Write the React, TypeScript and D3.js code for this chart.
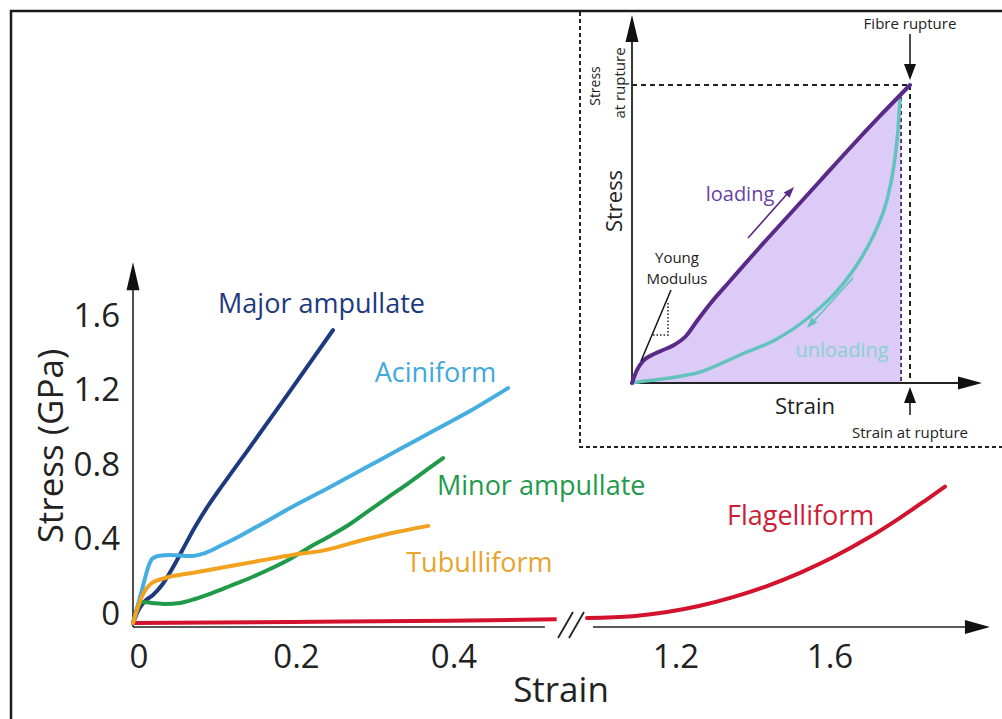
import * as d3 from "d3"

type Pt = [number, number]

// main chart: [strain, stress in GPa]
const majorAmpullate: Pt[] = [
  [0, 0], [0.0076, 0.075], [0.0152, 0.118], [0.0254, 0.151], [0.0368, 0.204], [0.0495, 0.29],
  [0.0635, 0.398], [0.0787, 0.516], [0.0952, 0.629], [0.113, 0.737], [0.1486, 0.946],
  [0.1994, 1.247], [0.254, 1.575],
]
const aciniform: Pt[] = [
  [0, 0], [0.0076, 0.118], [0.014, 0.22], [0.019, 0.296], [0.0241, 0.344], [0.0317, 0.36],
  [0.047, 0.366], [0.0724, 0.36], [0.0914, 0.376], [0.113, 0.419], [0.1359, 0.468],
  [0.1613, 0.527], [0.2019, 0.624], [0.2502, 0.731], [0.2946, 0.833], [0.339, 0.935],
  [0.3835, 1.038], [0.428, 1.14], [0.4762, 1.263],
]
const minorAmpullate: Pt[] = [
  [0, 0], [0.0063, 0.086], [0.0127, 0.113], [0.0241, 0.108], [0.0406, 0.102], [0.0597, 0.108],
  [0.0787, 0.129], [0.1003, 0.161], [0.1232, 0.199], [0.1486, 0.242], [0.174, 0.29],
  [0.1994, 0.344], [0.2248, 0.409], [0.2502, 0.468], [0.2756, 0.532], [0.301, 0.608],
  [0.3263, 0.683], [0.3517, 0.758], [0.3746, 0.828], [0.3937, 0.887],
]
const tubuliform: Pt[] = [
  [0, 0], [0.011, 0.14], [0.024, 0.215], [0.041, 0.242], [0.075, 0.269], [0.117, 0.301],
  [0.159, 0.333], [0.202, 0.366], [0.244, 0.392], [0.292, 0.446], [0.335, 0.489], [0.375, 0.522],
]
const flagelliformLow: Pt[] = [[0, 0], [0.2, 0.006], [0.4, 0.012], [0.538, 0.02]]
const flagelliformHigh: Pt[] = [
  [0.9844, 0.0269], [1.1039, 0.0366], [1.1922, 0.0586], [1.2779, 0.0925], [1.3636, 0.1387],
  [1.4519, 0.1989], [1.5377, 0.2699], [1.6234, 0.3532], [1.7117, 0.4538], [1.7974, 0.5656],
  [1.8675, 0.6651], [1.9143, 0.7328],
]

const yTicks = [0, 0.4, 0.8, 1.2, 1.6]
const yTickLabels = ["0", "0.4", "0.8", "1.2", "1.6"]
const xTicks = [0, 0.2, 0.4, 1.2, 1.6]
const xTickLabels = ["0", "0.2", "0.4", "1.2", "1.6"]

// inset: normalised strain / stress (1 = rupture)
const loading: Pt[] = [
  [0, 0], [0.018, 0.0436], [0.0396, 0.0738], [0.0719, 0.094], [0.1115, 0.1107], [0.1511, 0.1275],
  [0.1942, 0.1577], [0.2338, 0.2081], [0.2806, 0.2651], [0.3525, 0.3423], [0.4604, 0.4564],
  [0.5683, 0.5671], [0.6763, 0.6779], [0.7842, 0.7886], [0.8921, 0.896], [1, 1],
]
const unloading: Pt[] = [
  [0, 0], [0.0468, 0.0067], [0.1367, 0.0168], [0.2446, 0.0369], [0.3957, 0.0973],
  [0.5144, 0.1443], [0.6331, 0.2181], [0.741, 0.3121], [0.8201, 0.4128], [0.8777, 0.5134],
  [0.9173, 0.6141], [0.9424, 0.7315], [0.9568, 0.849], [0.964, 0.9497],
]

const FONT = "'Open Sans', sans-serif"

function arrowHead(tx: number, ty: number, dx: number, dy: number, len: number, half: number) {
  const n = Math.hypot(dx, dy)
  const ux = dx / n, uy = dy / n
  const bx = tx - ux * len, by = ty - uy * len
  return `M${tx},${ty}L${bx - uy * half},${by + ux * half}L${bx + uy * half},${by - ux * half}Z`
}

export default function App() {
  // main scales (broken strain axis)
  const x = d3.scaleLinear().domain([0, 0.54, 0.98, 2.05]).range([133, 558.25, 585.3, 997.25])
  const y = d3.scaleLinear().domain([0, 1.75]).range([623, 297.5])
  const line = d3
    .line<Pt>()
    .x((d) => x(d[0]))
    .y((d) => y(d[1]))
    .curve(d3.curveMonotoneX)

  // inset scales
  const xi = d3.scaleLinear().domain([0, 1]).range([632, 910])
  const yi = d3.scaleLinear().domain([0, 1]).range([383, 85])
  const lineI = d3
    .line<Pt>()
    .x((d) => xi(d[0]))
    .y((d) => yi(d[1]))
    .curve(d3.curveMonotoneX)
  const areaI = d3
    .area<Pt>()
    .x((d) => xi(d[0]))
    .y0(yi(0))
    .y1((d) => yi(d[1]))
    .curve(d3.curveMonotoneX)

  const series = [
    { name: "Major ampullate", data: majorAmpullate, color: "#1d3a80", text: "#1d3a80", at: [0.108, 1.667] },
    { name: "Aciniform", data: aciniform, color: "#45aee0", text: "#3fa9dc", at: [0.307, 1.296] },
    { name: "Minor ampullate", data: minorAmpullate, color: "#1f9a48", text: "#229a4c", at: [0.386, 0.688] },
    { name: "Tubulliform", data: tubuliform, color: "#f2a21e", text: "#e8a42c", at: [0.347, 0.274] },
  ]

  const axisY = y(0) + 4
  const yMax = 1.94
  const ruptureX = 0.968

  return (
    <svg width={1002} height={719} style={{ position: "absolute", left: 0, top: 0, background: "#fff" }}>
      {/* frame */}
      <path d="M11,719V11H1002" fill="none" stroke="#1a1a1a" strokeWidth={2.5} />
      <path d="M580,12V447H1002" fill="none" stroke="#222" strokeWidth={2} strokeDasharray="4,3" />

      {/* ---------- main chart ---------- */}
      <line x1={x(0)} x2={x(0)} y1={axisY} y2={y(yMax) + 20} stroke="#222" strokeWidth={1.6} />
      <path d={arrowHead(x(0), y(yMax), 0, -1, 28, 6.5)} fill="#111" />
      <line x1={x(0)} x2={x(0.523)} y1={axisY} y2={axisY} stroke="#222" strokeWidth={1.6} />
      <line x1={x(1.0)} x2={x(2.031) - 20} y1={axisY} y2={axisY} stroke="#222" strokeWidth={1.6} />
      <path d={arrowHead(x(2.031), axisY, 1, 0, 25, 7)} fill="#111" />
      <line x1={558} y1={638} x2={573} y2={612} stroke="#222" strokeWidth={1.8} />
      <line x1={569} y1={638} x2={584} y2={612} stroke="#222" strokeWidth={1.8} />

      {yTicks.map((t, i) => (
        <text key={t} x={120} y={y(t) - 11} textAnchor="end" dominantBaseline="central"
          fontFamily={FONT} fontSize={33} fill="#222">
          {yTickLabels[i]}
        </text>
      ))}
      {xTicks.map((t, i) => (
        <text key={t} x={x(t) + 6} y={655} textAnchor="middle" dominantBaseline="central"
          fontFamily={FONT} fontSize={33} fill="#222">
          {xTickLabels[i]}
        </text>
      ))}
      <text x={561} y={702} textAnchor="middle" fontFamily={FONT} fontSize={35} fill="#222">Strain</text>
      <text transform="translate(49,446) rotate(-90)" textAnchor="middle" dominantBaseline="central"
        fontFamily={FONT} fontSize={35} fill="#222">Stress (GPa)</text>

      <path d={line(flagelliformLow) || ""} fill="none" stroke="#d3122e" strokeWidth={4} />
      <path d={line(flagelliformHigh) || ""} fill="none" stroke="#d3122e" strokeWidth={4} strokeLinecap="round" />
      {series.map((s) => (
        <path key={s.name} d={line(s.data) || ""} fill="none" stroke={s.color} strokeWidth={4}
          strokeLinecap="round" strokeLinejoin="round" />
      ))}
      {series.map((s) => (
        <text key={s.name + "-l"} x={x(s.at[0])} y={y(s.at[1])} fontFamily={FONT} fontSize={27} fill={s.text}>
          {s.name}
        </text>
      ))}
      <text x={x(1.348)} y={y(0.527)} fontFamily={FONT} fontSize={27} fill="#cc1d38">Flagelliform</text>

      {/* ---------- inset ---------- */}
      <defs>
        <clipPath id="rupture-clip">
          <rect x={xi(0)} y={0} width={xi(ruptureX) - xi(0)} height={yi(0)} />
        </clipPath>
      </defs>
      <path d={areaI(loading) || ""} fill="#dccbf7" clipPath="url(#rupture-clip)" />
      <line x1={xi(0)} x2={xi(1)} y1={yi(1)} y2={yi(1)} stroke="#222" strokeWidth={2} strokeDasharray="5,4" />
      <line x1={xi(1)} x2={xi(1)} y1={yi(1)} y2={yi(0)} stroke="#222" strokeWidth={2} strokeDasharray="5,4" />
      <line x1={xi(ruptureX)} x2={xi(ruptureX)} y1={yi(0.96)} y2={yi(0)} stroke="#4a2a6e" strokeWidth={1.8}
        strokeDasharray="4,3" />

      <line x1={xi(0)} x2={xi(0)} y1={yi(0)} y2={yi(1.235) + 22} stroke="#222" strokeWidth={1.8} />
      <path d={arrowHead(xi(0), yi(1.235), 0, -1, 27, 6.5)} fill="#111" />
      <line x1={xi(0)} x2={xi(1.259) - 20} y1={yi(0)} y2={yi(0)} stroke="#222" strokeWidth={1.8} />
      <path d={arrowHead(xi(1.259), yi(0), 1, 0, 24, 6.5)} fill="#111" />

      <path d={lineI(unloading) || ""} fill="none" stroke="#62c3bd" strokeWidth={3.5} strokeLinecap="round" />
      <path d={lineI(loading) || ""} fill="none" stroke="#5a2a88" strokeWidth={4} strokeLinecap="round" />

      {/* Young modulus tangent */}
      <line x1={641} y1={361} x2={671} y2={290} stroke="#111" strokeWidth={1.5} />
      <path d="M653,335H668V303" fill="none" stroke="#222" strokeWidth={1.5} strokeDasharray="1.5,2" />
      <text x={677} y={257} textAnchor="middle" dominantBaseline="central" fontFamily={FONT} fontSize={15} fill="#222">Young</text>
      <text x={677} y={278} textAnchor="middle" dominantBaseline="central" fontFamily={FONT} fontSize={15} fill="#222">Modulus</text>

      {/* loading / unloading arrows */}
      <line x1={748} y1={238} x2={788} y2={193} stroke="#5a2a88" strokeWidth={1.6} />
      <path d={arrowHead(794, 187, 45, -50, 11, 4)} fill="#5a2a88" />
      <text x={740} y={193} textAnchor="middle" dominantBaseline="central" fontFamily={FONT} fontSize={20} fill="#6b3fa2">loading</text>
      <line x1={853} y1={278} x2={813} y2={322} stroke="#62c3bd" strokeWidth={1.6} />
      <path d={arrowHead(807, 328, -45, 50, 11, 4)} fill="#62c3bd" />
      <text x={842} y={349} textAnchor="middle" dominantBaseline="central" fontFamily={FONT} fontSize={20} fill="#86d2cc">unloading</text>

      {/* rupture annotations */}
      <text x={xi(1)} y={23} textAnchor="middle" dominantBaseline="central" fontFamily={FONT} fontSize={15} fill="#222">Fibre rupture</text>
      <line x1={xi(1)} x2={xi(1)} y1={34} y2={66} stroke="#222" strokeWidth={1.6} />
      <path d={arrowHead(xi(1), 80, 0, 1, 16, 6)} fill="#111" />
      <line x1={xi(1)} x2={xi(1)} y1={415} y2={400} stroke="#222" strokeWidth={1.6} />
      <path d={arrowHead(xi(1), 387, 0, -1, 16, 6)} fill="#111" />
      <text x={xi(1)} y={432} textAnchor="middle" dominantBaseline="central" fontFamily={FONT} fontSize={15} fill="#222">Strain at rupture</text>

      <text x={805} y={405} textAnchor="middle" dominantBaseline="central" fontFamily={FONT} fontSize={22} fill="#222">Strain</text>
      <text transform="translate(613,201) rotate(-90)" textAnchor="middle" dominantBaseline="central"
        fontFamily={FONT} fontSize={22} fill="#222">Stress</text>
      <text transform="translate(594,86) rotate(-90)" textAnchor="middle" dominantBaseline="central"
        fontFamily={FONT} fontSize={14} fill="#222">Stress</text>
      <text transform="translate(619,83) rotate(-90)" textAnchor="middle" dominantBaseline="central"
        fontFamily={FONT} fontSize={15} fill="#222">at rupture</text>
    </svg>
  )
}
